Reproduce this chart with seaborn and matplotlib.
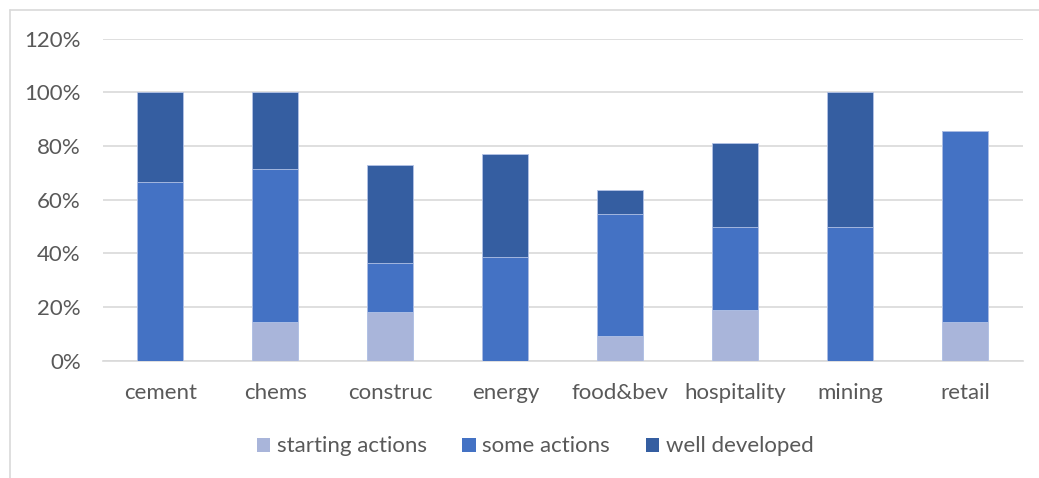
import seaborn as sns
import matplotlib.pyplot as plt
import pandas as pd
from matplotlib.patches import Patch
from matplotlib.ticker import PercentFormatter

# sectors and share of companies (%) per maturity level
sectors = ["cement", "chems", "construc", "energy", "food&bev", "hospitality", "mining", "retail"]
starting_actions = [0, 14.3, 18.2, 0, 9.1, 18.75, 0, 14.3]
some_actions = [66.7, 57.1, 18.2, 38.5, 45.5, 31.25, 50, 71.4]
well_developed = [33.3, 28.6, 36.4, 38.5, 9.1, 31.25, 50, 0]

series_names = ["starting actions", "some actions", "well developed"]
colors = ["#A9B5DA", "#4472C4", "#355EA1"]

df = pd.DataFrame({
    "sector": sectors,
    "starting actions": starting_actions,
    "some actions": some_actions,
    "well developed": well_developed,
})
# cumulative tops for stacking
df["top_start"] = df["starting actions"]
df["top_some"] = df["top_start"] + df["some actions"]
df["top_well"] = df["top_some"] + df["well developed"]

sns.set_style("white")
plt.rcParams["font.family"] = ["Lato", "DejaVu Sans"]
text_color = "#595959"

fig = plt.figure(figsize=(10.39, 4.78), dpi=100)
ax = fig.add_axes([0.0991, 0.2454, 0.8855, 0.6736])

# draw back to front so each layer shows only its own segment
for col, color in zip(["top_well", "top_some", "top_start"], colors[::-1]):
    sns.barplot(data=df, x="sector", y=col, color=color, width=0.4,
                saturation=1, ax=ax, zorder=3, edgecolor="#B4C3E6", linewidth=0.6)

ax.set_ylim(0, 120)
ax.set_yticks(range(0, 121, 20))
ax.yaxis.set_major_formatter(PercentFormatter(decimals=0))
ax.grid(axis="y", color="#D9D9D9", linewidth=1.2, zorder=0)
ax.set_xlim(-0.5, len(sectors) - 0.5)
ax.set_xlabel("")
ax.set_ylabel("")
for s in ["top", "right", "left"]:
    ax.spines[s].set_visible(False)
ax.spines["bottom"].set_color("#D9D9D9")
ax.spines["bottom"].set_linewidth(1.2)
ax.tick_params(axis="both", length=0, labelsize=16, labelcolor=text_color)
ax.tick_params(axis="x", pad=16)
ax.tick_params(axis="y", pad=16)

handles = [Patch(facecolor=c, edgecolor="none") for c in colors]
fig.legend(handles, series_names, loc="center", bbox_to_anchor=(0.515, 0.066),
           ncol=3, frameon=False, fontsize=16, labelcolor=text_color,
           handlelength=0.6, handleheight=0.6, handletextpad=0.3, columnspacing=1.6)

# light chart-area border (top and left edges visible)
fig.add_artist(plt.Line2D([10 / 1039, 1], [1 - 10 / 478, 1 - 10 / 478],
                          color="#D9D9D9", linewidth=1.2, transform=fig.transFigure))
fig.add_artist(plt.Line2D([10 / 1039, 10 / 1039], [0, 1 - 10 / 478],
                          color="#D9D9D9", linewidth=1.2, transform=fig.transFigure))

plt.savefig("out.png", dpi=100)
